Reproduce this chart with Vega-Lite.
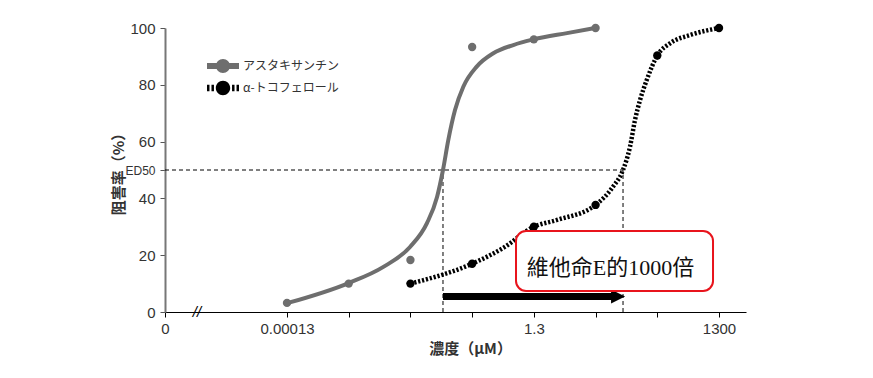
{
  "$schema": "https://vega.github.io/schema/vega-lite/v6.json",
  "width": 581,
  "height": 284,
  "autosize": {"type": "none"},
  "padding": {"left": 165, "top": 28, "right": 127, "bottom": 66},
  "background": "#ffffff",
  "config": {"view": {"stroke": null}, "axis": {"grid": false}},
  "datasets": {
    "curveA": [
      {"conc": 0.00013, "pct": 3.1}, {"conc": 0.0013, "pct": 10.2}, {"conc": 0.00467, "pct": 15.8},
      {"conc": 0.0128, "pct": 22.9}, {"conc": 0.0241, "pct": 31.3}, {"conc": 0.0351, "pct": 40.5},
      {"conc": 0.0438, "pct": 50}, {"conc": 0.05346, "pct": 60.6}, {"conc": 0.0686, "pct": 71.1},
      {"conc": 0.0935, "pct": 79.3}, {"conc": 0.1542, "pct": 86.4}, {"conc": 0.2864, "pct": 91.1},
      {"conc": 0.604, "pct": 94}, {"conc": 1.3, "pct": 96}, {"conc": 4.48, "pct": 98.2}, {"conc": 13, "pct": 100}
    ],
    "curveB": [
      {"conc": 0.013, "pct": 10}, {"conc": 0.13, "pct": 17}, {"conc": 0.411, "pct": 22.5},
      {"conc": 1.3, "pct": 30}, {"conc": 3.08, "pct": 32.4}, {"conc": 13, "pct": 37.7},
      {"conc": 24.9, "pct": 44.1}, {"conc": 36.2, "pct": 50}, {"conc": 47, "pct": 58.2},
      {"conc": 56.6, "pct": 67.6}, {"conc": 68.3, "pct": 74.6}, {"conc": 87.7, "pct": 81.7},
      {"conc": 130, "pct": 90.3}, {"conc": 209, "pct": 94.6}, {"conc": 441, "pct": 97.5}, {"conc": 1300, "pct": 100}
    ],
    "pts": [
      {"series": "アスタキサンチン", "conc": 0.00013, "pct": 3.2},
      {"series": "アスタキサンチン", "conc": 0.0013, "pct": 10},
      {"series": "アスタキサンチン", "conc": 0.013, "pct": 18.3},
      {"series": "アスタキサンチン", "conc": 0.13, "pct": 93.3},
      {"series": "アスタキサンチン", "conc": 1.3, "pct": 96},
      {"series": "アスタキサンチン", "conc": 13, "pct": 100},
      {"series": "α-トコフェロール", "conc": 0.013, "pct": 10},
      {"series": "α-トコフェロール", "conc": 0.13, "pct": 17},
      {"series": "α-トコフェロール", "conc": 1.3, "pct": 30},
      {"series": "α-トコフェロール", "conc": 13, "pct": 37.7},
      {"series": "α-トコフェロール", "conc": 130, "pct": 90.3},
      {"series": "α-トコフェロール", "conc": 1300, "pct": 100}
    ],
    "hline": [{"conc": 1.371e-6, "conc2": 36.2, "pct": 50}],
    "vlines": [{"conc": 0.0438, "pct": 0, "pct2": 50}, {"conc": 36.2, "pct": 0, "pct2": 50}],
    "arrow": [{"conc": 0.0438, "conc2": 26.9, "pct": 5.5}],
    "arrowhead": [{"conc": 30.06, "pct": 5.5}],
    "box": [{"conc": 0.668, "conc2": 1040, "pct": 7.4, "pct2": 28.5}],
    "boxtext": [{"conc": 22.7, "pct": 15.5, "label": "維他命E的1000倍"}],
    "brk": [{"conc": 4.53e-6, "pct": 0, "label": "//"}]
  },
  "encoding": {
    "x": {
      "field": "conc", "type": "quantitative",
      "scale": {"type": "log", "domain": [1.371e-6, 3560], "nice": false, "zero": false},
      "axis": {
        "title": "濃度（μM）",
        "values": [1.371e-6, 0.00013, 0.0013, 0.013, 0.13, 1.3, 13, 130, 1300],
        "labelExpr": "datum.value < 1e-5 ? '0' : (abs(datum.value - 0.00013) < 1e-8 ? '0.00013' : (abs(datum.value - 1.3) < 1e-3 ? '1.3' : (abs(datum.value - 1300) < 1 ? '1300' : '')))",
        "domainColor": "#000000", "domainWidth": 1.2,
        "tickColor": "#000000", "tickSize": 5, "tickWidth": 1,
        "labelFont": "Liberation Sans", "labelFontSize": 15, "labelColor": "#333333", "labelPadding": 4,
        "labelFlush": false, "labelOverlap": false,
        "titleFont": "Noto Sans CJK JP", "titleFontSize": 15, "titleFontWeight": "bold", "titleColor": "#333333",
        "titleX": 305, "titleY": 36, "titleAlign": "center", "titleBaseline": "middle"
      }
    },
    "y": {
      "field": "pct", "type": "quantitative",
      "scale": {"domain": [0, 100], "nice": false},
      "axis": {
        "title": "阻害率（%）",
        "values": [0, 20, 40, 50, 60, 80, 100],
        "labelExpr": "datum.value == 50 ? 'ED50' : datum.label",
        "labelFontSize": {"condition": {"test": "datum.value == 50", "value": 12}, "value": 15},
        "domainColor": "#777777", "domainWidth": 2,
        "tickColor": "#555555", "tickSize": 5, "tickWidth": 1,
        "labelFont": "Liberation Sans", "labelColor": "#333333", "labelPadding": 5,
        "labelOverlap": false,
        "titleFont": "Noto Sans CJK JP", "titleFontSize": 15, "titleFontWeight": "bold", "titleColor": "#333333",
        "titleX": -47, "titleY": 142, "titleAlign": "center", "titleBaseline": "middle", "titleAngle": -90
      }
    }
  },
  "layer": [
    {
      "data": {"name": "hline"},
      "mark": {"type": "rule", "color": "#000000", "strokeWidth": 1, "strokeDash": [4, 3]},
      "encoding": {"x2": {"field": "conc2"}}
    },
    {
      "data": {"name": "vlines"},
      "mark": {"type": "rule", "color": "#000000", "strokeWidth": 1, "strokeDash": [4, 3]},
      "encoding": {"y2": {"field": "pct2"}}
    },
    {
      "data": {"name": "curveA"},
      "mark": {"type": "line", "interpolate": "monotone", "color": "#6e6e6e", "strokeWidth": 4}
    },
    {
      "data": {"name": "curveB"},
      "mark": {"type": "line", "interpolate": "monotone", "color": "#000000", "strokeWidth": 4.5, "strokeDash": [2.2, 1.8]}
    },
    {
      "data": {"name": "pts"},
      "mark": {"type": "point", "filled": true, "shape": "circle", "size": 70, "opacity": 1},
      "encoding": {
        "color": {
          "field": "series", "type": "nominal",
          "scale": {"domain": ["アスタキサンチン", "α-トコフェロール"], "range": ["#6e6e6e", "#000000"]},
          "legend": {
            "title": null, "orient": "none", "legendX": 50, "legendY": 30, "padding": 0,
            "symbolSize": 256, "symbolStrokeWidth": 0, "symbolOpacity": 1,
            "labelOffset": 12, "rowPadding": 7,
            "labelFont": "Noto Sans CJK JP", "labelFontSize": 12, "labelColor": "#333333",
            "encode": {
              "symbols": {
                "update": {
                  "shape": {"signal": "datum.value === 'アスタキサンチン' ? 'M -2 -0.375 L -0.8 -0.375 L -0.8 0.375 L -2 0.375 Z M 0.8 -0.375 L 2 -0.375 L 2 0.375 L 0.8 0.375 Z M -0.875 0 A 0.875 0.875 0 1 1 0.875 0 A 0.875 0.875 0 1 1 -0.875 0 Z' : 'M -2 -0.4 L -1.69 -0.4 L -1.69 0.4 L -2 0.4 Z M -1.44 -0.4 L -1.13 -0.4 L -1.13 0.4 L -1.44 0.4 Z M 1.13 -0.4 L 1.44 -0.4 L 1.44 0.4 L 1.13 0.4 Z M 1.69 -0.4 L 2 -0.4 L 2 0.4 L 1.69 0.4 Z M -0.9 0 A 0.9 0.9 0 1 1 0.9 0 A 0.9 0.9 0 1 1 -0.9 0 Z'"},
                  "strokeWidth": {"value": 0}
                }
              }
            }
          }
        }
      }
    },
    {
      "data": {"name": "arrow"},
      "mark": {"type": "rule", "color": "#000000", "strokeWidth": 7},
      "encoding": {"x2": {"field": "conc2"}}
    },
    {
      "data": {"name": "arrowhead"},
      "mark": {"type": "point", "filled": true, "color": "#000000", "opacity": 1, "size": 196, "shape": "M -1 -1 L 1 0 L -1 1 Z"}
    },
    {
      "data": {"name": "box"},
      "mark": {"type": "rect", "fill": "#ffffff", "stroke": "#e8141c", "strokeWidth": 2, "cornerRadius": 10},
      "encoding": {"x2": {"field": "conc2"}, "y2": {"field": "pct2"}}
    },
    {
      "data": {"name": "boxtext"},
      "mark": {"type": "text", "font": "Liberation Serif, Noto Sans CJK TC", "fontSize": 22, "color": "#111111", "align": "center", "baseline": "middle"},
      "encoding": {"text": {"field": "label"}}
    },
    {
      "data": {"name": "brk"},
      "mark": {"type": "text", "font": "Liberation Sans", "fontSize": 15, "fontStyle": "italic", "color": "#000000", "align": "center", "baseline": "middle"},
      "encoding": {"text": {"field": "label"}}
    }
  ]
}
